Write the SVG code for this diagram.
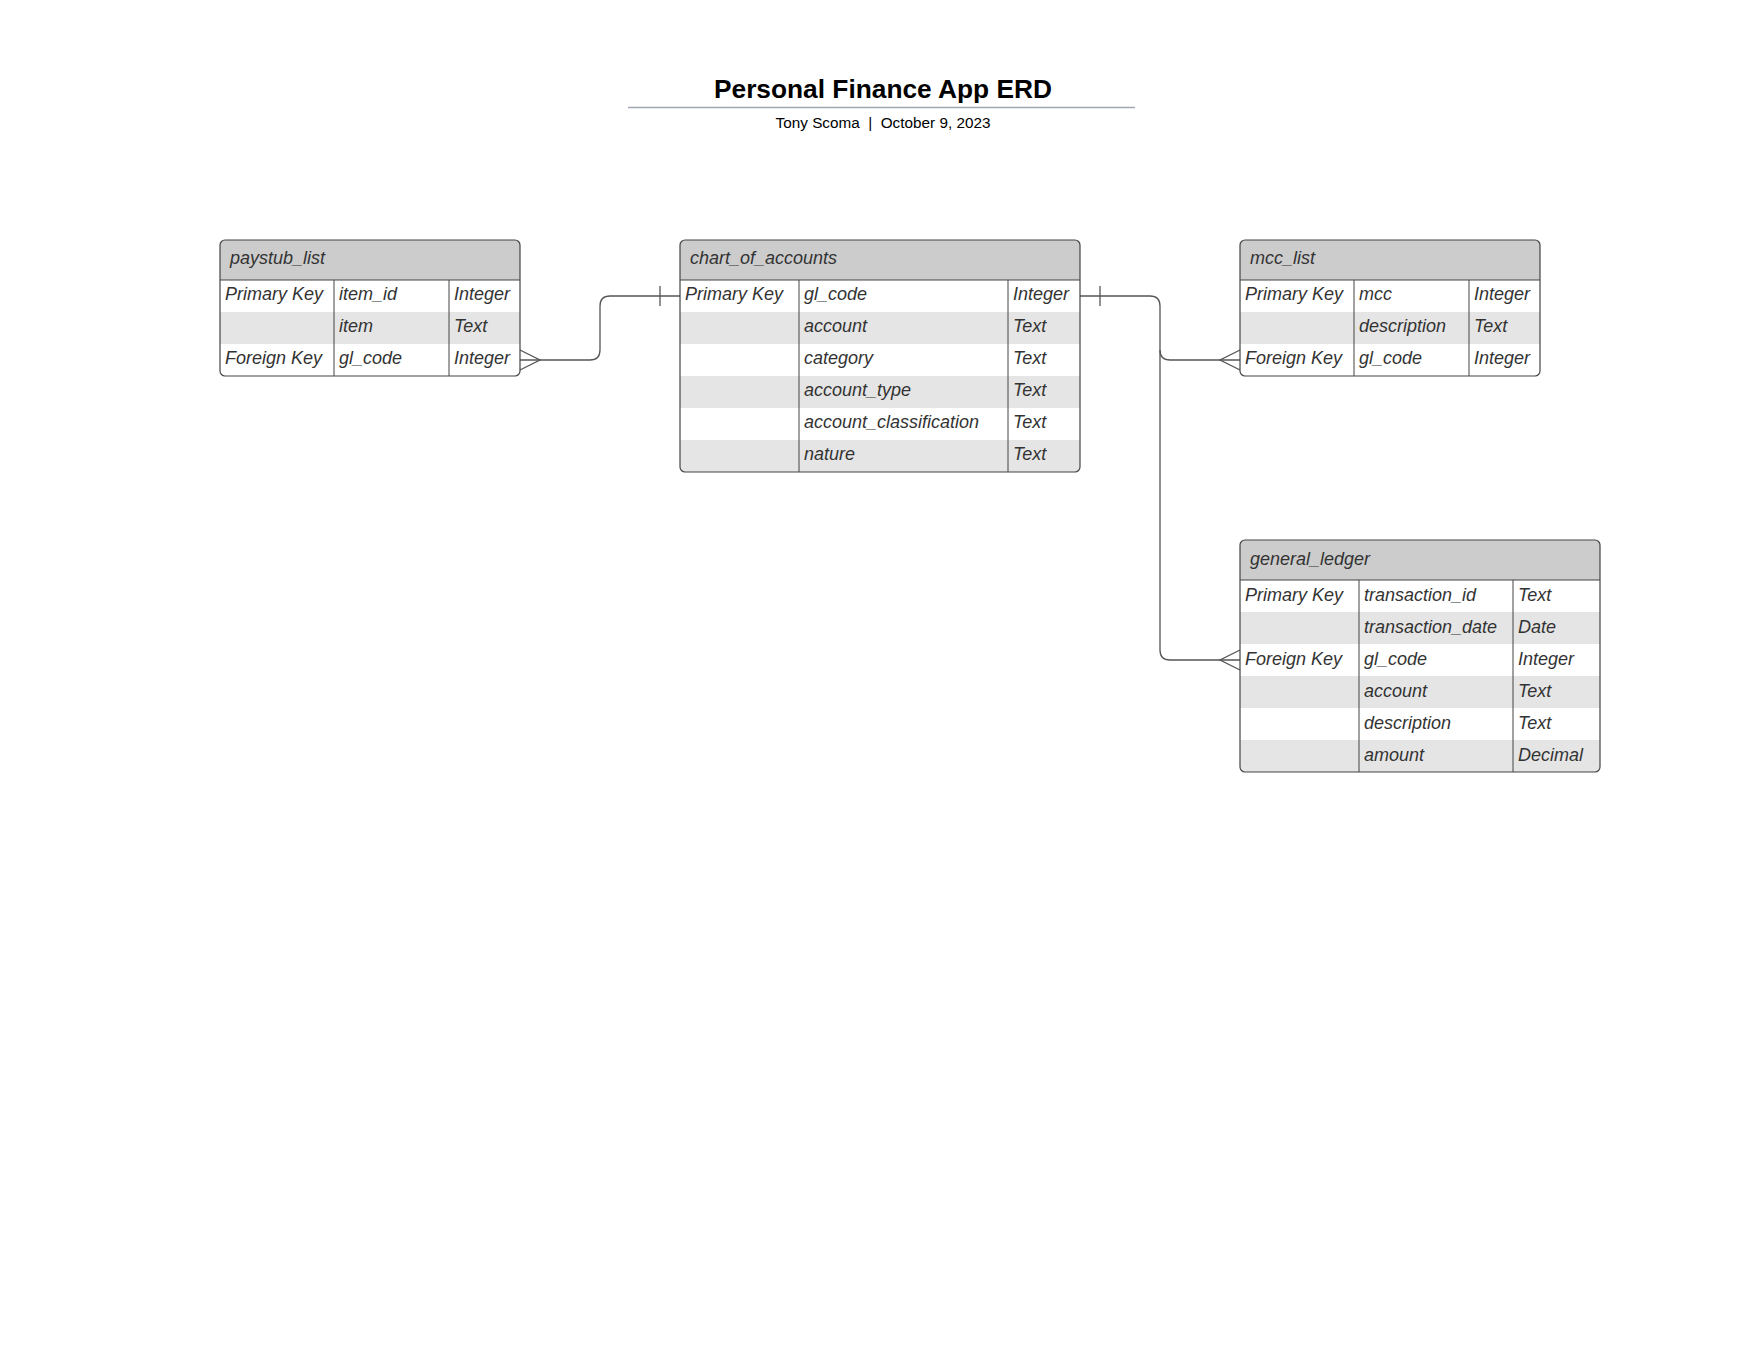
<svg xmlns="http://www.w3.org/2000/svg" width="1760" height="1360" viewBox="0 0 1760 1360">
<style>
.t{font-family:"Liberation Sans",Arial,sans-serif;font-style:italic;font-size:18px;fill:#333}
.hd{fill:#cccccc}
.alt{fill:#e5e5e5}
.bd{fill:none;stroke:#444;stroke-width:1.2}
.dv{stroke:#444;stroke-width:1}
.cn{fill:none;stroke:#555;stroke-width:1.3}
</style>
<defs>
<clipPath id="c1"><rect x="220" y="240" width="300" height="136" rx="5"/></clipPath>
<clipPath id="c2"><rect x="680" y="240" width="400" height="232" rx="5"/></clipPath>
<clipPath id="c3"><rect x="1240" y="240" width="300" height="136" rx="5"/></clipPath>
<clipPath id="c4"><rect x="1240" y="540" width="360" height="232" rx="5"/></clipPath>
</defs>
<rect width="1760" height="1360" fill="#fff"/>
<g id="title">
<text x="883" y="98" text-anchor="middle" style="font-family:'Liberation Sans',Arial,sans-serif;font-weight:bold;font-size:26.3px;fill:#000">Personal Finance App ERD</text>
<line x1="628" y1="107.5" x2="1135" y2="107.5" stroke="#a3a8b4" stroke-width="1.5"/>
<text x="883" y="128" text-anchor="middle" style="font-family:'Liberation Sans',Arial,sans-serif;font-size:15.3px;fill:#000;white-space:pre" xml:space="preserve">Tony Scoma  |  October 9, 2023</text>
</g>
<g id="connectors">
<path class="cn" d="M520,360 L590,360 Q600,360 600,350 L600,306 Q600,296 610,296 L680,296"/>
<path class="cn" d="M520,350 L540,360 L520,370"/>
<line class="cn" x1="660" y1="286" x2="660" y2="306"/>
<path class="cn" d="M1080,296 L1150,296 Q1160,296 1160,306 L1160,350 Q1160,360 1170,360 L1240,360"/>
<path class="cn" d="M1160,350 L1160,650 Q1160,660 1170,660 L1240,660"/>
<line class="cn" x1="1100" y1="286" x2="1100" y2="306"/>
<path class="cn" d="M1240,350 L1220,360 L1240,370"/>
<path class="cn" d="M1240,650 L1220,660 L1240,670"/>
</g>
<g id="paystub_list">
<g clip-path="url(#c1)">
<rect x="220" y="240" width="300" height="136" fill="#fff"/>
<rect class="hd" x="220" y="240" width="300" height="40"/>
<rect class="alt" x="220" y="312" width="300" height="32"/>
</g>
<line class="dv" x1="220" y1="280" x2="520" y2="280"/>
<line class="dv" x1="334" y1="280" x2="334" y2="376"/>
<line class="dv" x1="449" y1="280" x2="449" y2="376"/>
<rect class="bd" x="220" y="240" width="300" height="136" rx="5"/>
<text class="t" x="230" y="264">paystub_list</text>
<text class="t" x="225" y="300">Primary Key</text><text class="t" x="339" y="300">item_id</text><text class="t" x="454" y="300">Integer</text>
<text class="t" x="339" y="332">item</text><text class="t" x="454" y="332">Text</text>
<text class="t" x="225" y="364">Foreign Key</text><text class="t" x="339" y="364">gl_code</text><text class="t" x="454" y="364">Integer</text>
</g>
<g id="chart_of_accounts">
<g clip-path="url(#c2)">
<rect x="680" y="240" width="400" height="232" fill="#fff"/>
<rect class="hd" x="680" y="240" width="400" height="40"/>
<rect class="alt" x="680" y="312" width="400" height="32"/>
<rect class="alt" x="680" y="376" width="400" height="32"/>
<rect class="alt" x="680" y="440" width="400" height="32"/>
</g>
<line class="dv" x1="680" y1="280" x2="1080" y2="280"/>
<line class="dv" x1="799" y1="280" x2="799" y2="472"/>
<line class="dv" x1="1008" y1="280" x2="1008" y2="472"/>
<rect class="bd" x="680" y="240" width="400" height="232" rx="5"/>
<text class="t" x="690" y="264">chart_of_accounts</text>
<text class="t" x="685" y="300">Primary Key</text><text class="t" x="804" y="300">gl_code</text><text class="t" x="1013" y="300">Integer</text>
<text class="t" x="804" y="332">account</text><text class="t" x="1013" y="332">Text</text>
<text class="t" x="804" y="364">category</text><text class="t" x="1013" y="364">Text</text>
<text class="t" x="804" y="396">account_type</text><text class="t" x="1013" y="396">Text</text>
<text class="t" x="804" y="428">account_classification</text><text class="t" x="1013" y="428">Text</text>
<text class="t" x="804" y="460">nature</text><text class="t" x="1013" y="460">Text</text>
</g>
<g id="mcc_list">
<g clip-path="url(#c3)">
<rect x="1240" y="240" width="300" height="136" fill="#fff"/>
<rect class="hd" x="1240" y="240" width="300" height="40"/>
<rect class="alt" x="1240" y="312" width="300" height="32"/>
</g>
<line class="dv" x1="1240" y1="280" x2="1540" y2="280"/>
<line class="dv" x1="1354" y1="280" x2="1354" y2="376"/>
<line class="dv" x1="1469" y1="280" x2="1469" y2="376"/>
<rect class="bd" x="1240" y="240" width="300" height="136" rx="5"/>
<text class="t" x="1250" y="264">mcc_list</text>
<text class="t" x="1245" y="300">Primary Key</text><text class="t" x="1359" y="300">mcc</text><text class="t" x="1474" y="300">Integer</text>
<text class="t" x="1359" y="332">description</text><text class="t" x="1474" y="332">Text</text>
<text class="t" x="1245" y="364">Foreign Key</text><text class="t" x="1359" y="364">gl_code</text><text class="t" x="1474" y="364">Integer</text>
</g>
<g id="general_ledger">
<g clip-path="url(#c4)">
<rect x="1240" y="540" width="360" height="232" fill="#fff"/>
<rect class="hd" x="1240" y="540" width="360" height="40"/>
<rect class="alt" x="1240" y="612" width="360" height="32"/>
<rect class="alt" x="1240" y="676" width="360" height="32"/>
<rect class="alt" x="1240" y="740" width="360" height="32"/>
</g>
<line class="dv" x1="1240" y1="580" x2="1600" y2="580"/>
<line class="dv" x1="1359" y1="580" x2="1359" y2="772"/>
<line class="dv" x1="1513" y1="580" x2="1513" y2="772"/>
<rect class="bd" x="1240" y="540" width="360" height="232" rx="5"/>
<text class="t" x="1250" y="565">general_ledger</text>
<text class="t" x="1245" y="601">Primary Key</text><text class="t" x="1364" y="601">transaction_id</text><text class="t" x="1518" y="601">Text</text>
<text class="t" x="1364" y="633">transaction_date</text><text class="t" x="1518" y="633">Date</text>
<text class="t" x="1245" y="665">Foreign Key</text><text class="t" x="1364" y="665">gl_code</text><text class="t" x="1518" y="665">Integer</text>
<text class="t" x="1364" y="697">account</text><text class="t" x="1518" y="697">Text</text>
<text class="t" x="1364" y="729">description</text><text class="t" x="1518" y="729">Text</text>
<text class="t" x="1364" y="761">amount</text><text class="t" x="1518" y="761">Decimal</text>
</g>
</svg>
